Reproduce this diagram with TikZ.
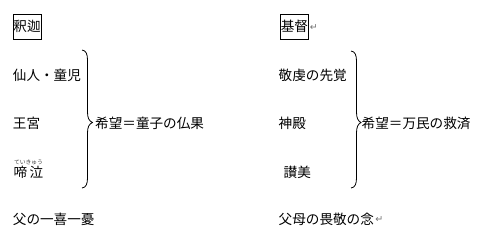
\documentclass[tikz,border=0pt]{standalone}
\usepackage{fontspec}
\newfontfamily\jp{Noto Sans CJK JP}
\newfontfamily\symf{DejaVu Sans}
\begin{document}
\begin{tikzpicture}[x=1pt,y=-1pt,
  txt/.style={font=\jp\fontsize{13.6}{14}\selectfont, inner sep=0pt, anchor=west},
  boxed/.style={txt, draw, line width=0.9pt, inner xsep=0.3pt, minimum height=25pt},
  ruby/.style={font=\jp\fontsize{5.8}{6}\selectfont, inner sep=0pt, text=black!75},
  pmark/.style={font=\symf\fontsize{9.5}{10}\selectfont, inner sep=0pt, text=black!55, anchor=west, xshift=1pt, yshift=-1pt},
  bracel/.style={line width=0.8pt}]
\useasboundingbox (0,0) rectangle (497,242);
% left column
\node[boxed] (shaka) at (12.7,26.5) {釈迦};
\node[txt] (sennin) at (12.7,75) {仙人・童児};
\node[txt] (oukyu) at (12.7,123) {王宮};
\node[txt] (tei) at (13.5,172.5) {啼};
\node[txt] (kyu) at (29.5,172.5) {泣};
\node[ruby] (teiruby) at (28.5,162.5) {ていきゅう};
\node[txt] (chichi) at (12.7,219) {父の一喜一憂};
\node[txt] (kibou1) at (95,123) {希望＝童子の仏果};
\draw[bracel] (82,50) .. controls (86,50.5) and (87.5,54) .. (87.5,60) -- (87.5,112)
  .. controls (87.5,118) and (89,121) .. (92.5,122.5)
  .. controls (89,124) and (87.5,127) .. (87.5,133) -- (87.5,178)
  .. controls (87.5,184) and (86,187.5) .. (82,188);
% right column
\node[boxed] (kirisuto) at (280,26.5) {基督};
\node[pmark] (pm1) at (kirisuto.east) {↵};
\node[txt] (keiken) at (278.5,75) {敬虔の先覚};
\node[txt] (shinden) at (278.5,123) {神殿};
\node[txt] (sanbi) at (283.5,172.5) {讃美};
\node[txt] (fubo) at (278.5,219) {父母の畏敬の念};
\node[pmark] (pm2) at (fubo.east) {↵};
\node[txt] (kibou2) at (361.5,123) {希望＝万民の救済};
\draw[bracel] (351,51) .. controls (355,51.5) and (356.5,55) .. (356.5,61) -- (356.5,112)
  .. controls (356.5,118) and (358,121) .. (361,122.5)
  .. controls (358,124) and (356.5,127) .. (356.5,133) -- (356.5,178)
  .. controls (356.5,184) and (355,187.5) .. (351,188);
\end{tikzpicture}
\end{document}
